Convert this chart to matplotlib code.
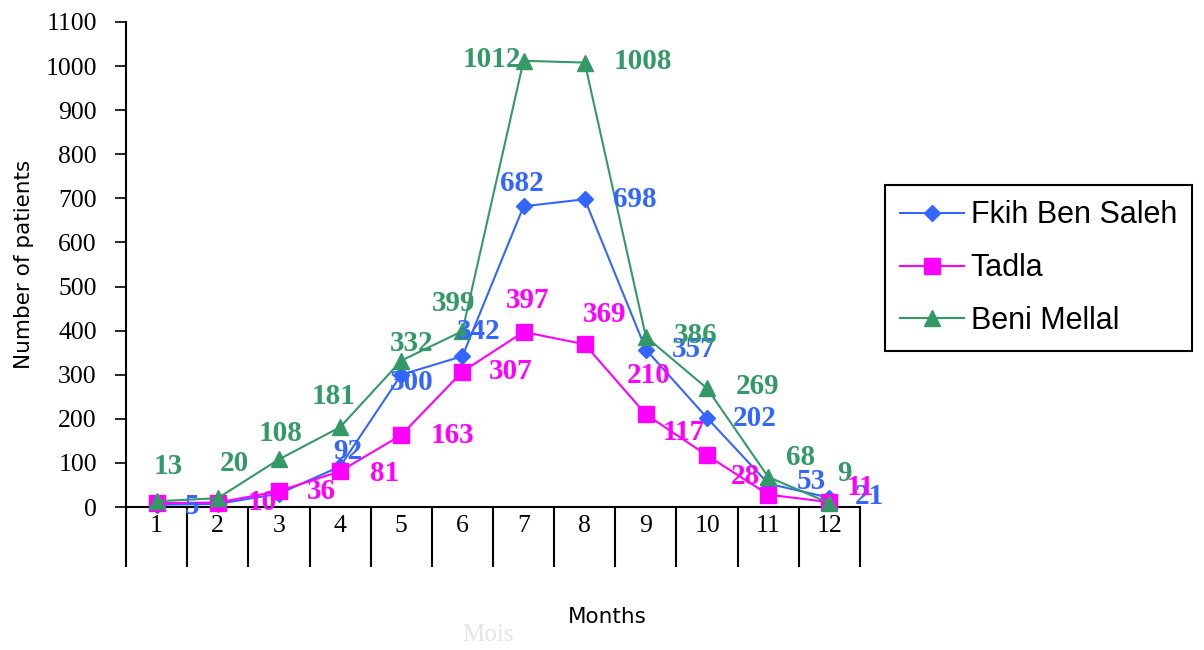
import numpy as np
import matplotlib
matplotlib.use("Agg")
import matplotlib.pyplot as plt

months = list(range(1, 13))
month_labels = [str(m) for m in months]

fkih = [5, 7, 30, 92, 300, 342, 682, 698, 357, 202, 53, 21]
tadla = [9, 10, 36, 81, 163, 307, 397, 369, 210, 117, 28, 11]
beni = [13, 20, 108, 181, 332, 399, 1012, 1008, 386, 269, 68, 9]

# label offsets in pixels (dx, dy up); None = label hidden in the original
fkih_off = [(35, -2), None, None, (8, 15), (10, -8), (16, 25), (-2, 23),
            (50, 0), (48, 0), (48, -1), (43, 2), (40, 1)]
tadla_off = [None, (45, 0), (42, 0), (45, -2), (51, 0), (48, 0), (4, 31),
             (20, 30), (3, 39), (-23, 23), (-23, 18), (31, 15)]
beni_off = [(12, 35), (17, 35), (2, 26), (-7, 31), (10, 17), (-9, 28), (-32, 1),
            (58, 1), (50, 1), (50, 2), (32, 20), (15, 30)]

blue = '#3366ff'
pink = '#ff00ff'
green = '#339966'

fig = plt.figure(figsize=(12.04, 6.5), dpi=100)
ax = fig.add_axes([126 / 1204, 1 - 507 / 650, (860 - 126) / 1204, (507 - 22) / 650])

ax.plot(months, fkih, color=blue, marker='D', ms=8.5, lw=1.5, label='Fkih Ben Saleh', clip_on=False, zorder=3)
ax.plot(months, tadla, color=pink, marker='s', ms=12, lw=1.5, label='Tadla', clip_on=False, zorder=4)
ax.plot(months, beni, color=green, marker='^', ms=12, lw=1.5, label='Beni Mellal', clip_on=False, zorder=5)

for vals, offs, col in [(fkih, fkih_off, blue), (tadla, tadla_off, pink), (beni, beni_off, green)]:
    for m, v, off in zip(months, vals, offs):
        if off is None:
            continue
        ax.annotate(str(v), (m, v), xytext=off, textcoords='offset pixels',
                    ha='center', va='center', color=col, fontsize=21,
                    fontweight='bold', family='Liberation Serif', zorder=6)

ax.set_xlim(0.5, 12.5)
ax.set_ylim(0, 1100)
ax.set_yticks(np.arange(0, 1101, 100))
ax.set_xticks(np.arange(0.5, 13, 1))
ax.set_xticklabels([])
ax.set_xticks(months, minor=True)
ax.set_xticklabels(month_labels, minor=True)

ax.tick_params(axis='x', which='major', direction='out', length=43, width=1.5)
ax.tick_params(axis='x', which='minor', length=0, pad=6)
ax.tick_params(axis='y', direction='out', length=8, width=1.2, pad=13)
for lab in ax.get_yticklabels() + ax.get_xticklabels(minor=True):
    lab.set_fontfamily('Liberation Serif')
    lab.set_fontsize(18.5)

for s in ['top', 'right']:
    ax.spines[s].set_visible(False)
for s in ['left', 'bottom']:
    ax.spines[s].set_linewidth(1.5)
    ax.spines[s].set_color('black')

fig.text(24 / 1204, 1 - 264 / 650, 'Number of patients', rotation=90,
         ha='center', va='center', fontsize=15.5, family='DejaVu Sans')
fig.text(607 / 1204, 1 - 617 / 650, 'Months', ha='center', va='center',
         fontsize=15.5, family='DejaVu Sans')
fig.text(488 / 1204, 1 - 635 / 650, 'Mois', ha='center', va='center',
         fontsize=18, family='Liberation Serif', color='#e4e4e4')

leg = fig.legend(loc='upper left', bbox_to_anchor=(885 / 1204, 1 - 185 / 650),
                 borderaxespad=0, prop={'family': 'Liberation Sans', 'size': 22},
                 handlelength=2.1, handletextpad=0.2, labelspacing=0.75,
                 borderpad=0.5, fancybox=False, framealpha=1, edgecolor='black')
leg.get_frame().set_linewidth(1.5)

fig.savefig('out.png', dpi=100)
